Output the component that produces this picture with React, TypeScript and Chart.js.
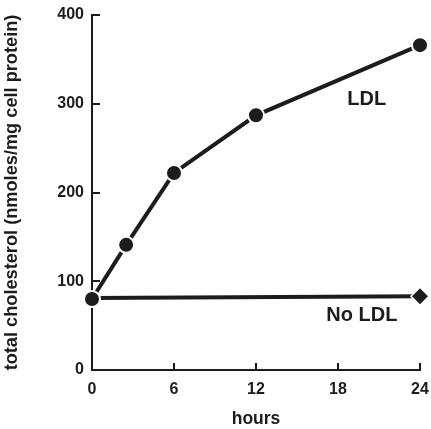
import React, { useEffect, useRef } from "react";
import { Chart, registerables } from "chart.js";

Chart.register(...registerables);

const ldlHours = [0, 2.5, 6, 12, 24];
const ldlValues = [80, 141, 222, 287, 366];
const noLdlHours = [0, 24];
const noLdlValues = [81, 83];
const xTicks = [0, 6, 12, 18, 24];
const yTicks = [0, 100, 200, 300, 400];
const seriesLabels = ["LDL", "No LDL"];
const labelHours = [20.1, 19.75];
const labelValues = [305, 61];

const INK = "#1c1c1c";
const FONT = "'Liberation Sans', Arial, Helvetica, sans-serif";

const innerTicks = {
  id: "innerTicks",
  beforeDatasetsDraw(chart: any) {
    const { ctx, scales } = chart;
    const x = scales.x;
    const y = scales.y;
    ctx.save();
    ctx.strokeStyle = INK;
    ctx.lineWidth = 2;
    ctx.beginPath();
    for (const v of yTicks) {
      const py = Math.round(y.getPixelForValue(v));
      ctx.moveTo(x.left, py);
      ctx.lineTo(x.left + 8, py);
    }
    for (const v of xTicks) {
      const px = Math.round(x.getPixelForValue(v));
      ctx.moveTo(px, y.bottom);
      ctx.lineTo(px, y.bottom - 7);
    }
    ctx.stroke();
    ctx.restore();
  },
  afterDatasetsDraw(chart: any) {
    const { ctx, scales } = chart;
    ctx.save();
    ctx.fillStyle = INK;
    ctx.font = `bold 20px ${FONT}`;
    ctx.textAlign = "center";
    ctx.textBaseline = "middle";
    seriesLabels.forEach((t, i) => {
      ctx.fillText(t, scales.x.getPixelForValue(labelHours[i]), scales.y.getPixelForValue(labelValues[i]));
    });
    ctx.restore();
  },
};

export default function App() {
  const ref = useRef<HTMLCanvasElement>(null);
  useEffect(() => {
    const chart = new Chart(ref.current!, {
      type: "line",
      data: {
        datasets: [
          {
            label: "LDL",
            data: ldlHours.map((h, i) => ({ x: h, y: ldlValues[i] })),
            borderColor: INK,
            borderWidth: 4,
            pointRadius: 8,
            pointBackgroundColor: INK,
            pointBorderColor: "#ffffff",
            pointBorderWidth: 2,
            pointStyle: "circle",
            clip: false,
          } as any,
          {
            label: "No LDL",
            data: noLdlHours.map((h, i) => ({ x: h, y: noLdlValues[i] })),
            borderColor: INK,
            borderWidth: 4,
            pointRadius: [0, 9],
            pointBackgroundColor: INK,
            pointBorderColor: "#ffffff",
            pointBorderWidth: 1.5,
            pointStyle: "rectRot",
            clip: false,
          } as any,
        ],
      },
      plugins: [innerTicks],
      options: {
        animation: false,
        responsive: false,
        maintainAspectRatio: false,
        layout: { padding: { top: 15, right: 11, left: 0, bottom: 0 } },
        plugins: { legend: { display: false }, tooltip: { enabled: false } },
        scales: {
          x: {
            type: "linear",
            min: 0,
            max: 24,
            afterBuildTicks: (s: any) => {
              s.ticks = xTicks.map((v) => ({ value: v }));
            },
            afterFit: (s: any) => {
              s.height = 59;
              s.paddingLeft = 0;
              s.paddingRight = 0;
            },
            grid: { display: false, drawTicks: false },
            border: { display: true, color: INK, width: 2 },
            ticks: { color: INK, font: { family: FONT, size: 16, weight: "bold" }, padding: 10, maxRotation: 0 },
            title: {
              display: true,
              text: "hours",
              color: INK,
              font: { family: FONT, size: 17.5, weight: "bold", lineHeight: 1.1 },
              padding: { top: 0, bottom: 0 },
            },
          },
          y: {
            type: "linear",
            min: 0,
            max: 400,
            afterBuildTicks: (s: any) => {
              s.ticks = yTicks.map((v) => ({ value: v }));
            },
            afterFit: (s: any) => {
              s.width = 92;
              s.paddingTop = 0;
              s.paddingBottom = 0;
            },
            grid: { display: false, drawTicks: false },
            border: { display: true, color: INK, width: 2 },
            ticks: { color: INK, font: { family: FONT, size: 16, weight: "bold" }, padding: 8 },
            title: {
              display: true,
              text: "total cholesterol (nmoles/mg cell protein)",
              color: INK,
              font: { family: FONT, size: 18.2, weight: "bold" },
              padding: { top: 1, bottom: 0 },
            },
          },
        },
      } as any,
    });
    return () => chart.destroy();
  }, []);
  return (
    <div style={{ position: "fixed", left: 0, top: 0, width: 431, height: 429, background: "#fff" }}>
      <canvas ref={ref} width={431} height={429} style={{ width: 431, height: 429 }} />
    </div>
  );
}
